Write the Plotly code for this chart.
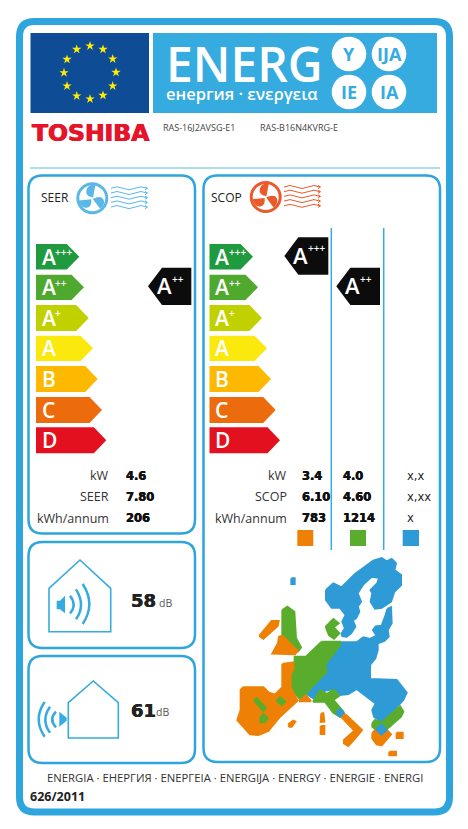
import plotly.graph_objects as go

BLUE = "#35abe0"
FRAME = "#2ea5dc"
CLASSES = ["A", "A", "A", "A", "B", "C", "D"]
CLASS_SUPS = ["+++", "++", "+", "", "", "", ""]
CLASS_COLORS = ["#1f9a3f", "#4fa92e", "#c1d100", "#fbe80c", "#fcb900", "#ec6c0d", "#e3101f"]
ROW_TOPS = [244, 274.7, 305, 335.7, 366, 397, 427.3]
ROW_BOTS = [269.5, 300, 331, 361, 392, 423, 453.3]
SEER_TIPS = [79.3, 84, 88.7, 93, 97.7, 102, 106.3]
SCOP_TIPS = [253, 258, 262, 267, 271, 275.7, 280]

SEER_LABELS = ["kW", "SEER", "kWh/annum"]
SEER_VALUES = ["4.6", "7.80", "206"]
SCOP_LABELS = ["kW", "SCOP", "kWh/annum"]
SCOP_WARM = ["3.4", "6.10", "783"]
SCOP_AVG = ["4.0", "4.60", "1214"]
SCOP_COLD = ["x,x", "x,xx", "x"]
ROW_Y = [475.7, 496.7, 518.3]
NOISE_IN = "58"
NOISE_OUT = "61"
MODELS = ["RAS-16J2AVSG-E1", "RAS-B16N4KVRG-E"]

STARS_X = [90, 103, 112.7, 116, 112.7, 103, 90, 76.7, 67, 64, 67, 76.7]
STARS_Y = [46, 49.3, 59, 72.3, 86, 95.3, 99, 96, 86, 72.7, 59.3, 49.3]

MAP_POLYS = [
 ("#2f9bd6", [(378,150),(400,130),(425,142),(465,102),(520,62),(545,54),(560,64),(575,57),(588,70),(583,90),(603,105),(603,135),(583,155),(573,185),(545,203),(525,206),(512,185),(517,160),(512,150),(532,130),(537,113),(515,110),(490,133),(473,160),(483,185),(473,200),(478,215),(468,235),(458,240),(466,260),(453,280),(440,290),(427,288),(425,280),(435,265),(427,245),(437,225),(420,203),(395,203),(378,180)]),
 ("#2f9bd6", [(562,207),(573,202),(575,250),(563,270),(566,290),(553,303),(533,310),(533,330),(526,355),(510,375),(510,417),(590,420),(620,458),(610,480),(565,528),(545,546),(522,530),(517,510),(527,490),(500,470),(470,447),(445,462),(420,465),(400,447),(375,452),(345,478),(320,462),(375,395),(375,375),(420,307),(470,307),(490,292),(510,297),(530,287),(519,270),(527,259),(545,257),(557,225)]),
 ("#5aad2c", [(365,305),(420,305),(420,315),(375,375),(380,395),(300,478),(274,445),(274,400),(284,385),(284,350),(318,350)]),
 ("#ee8105", [(247,372),(280,367),(280,390),(272,400),(272,445),(293,482),(240,530),(205,573),(175,585),(150,583),(112,540),(122,510),(122,450),(130,442),(190,442),(205,457),(225,464),(247,442)]),
 ("#ee8105", [(297,484),(318,466),(333,484)]),
 ("#5aad2c", [(339,485),(360,452),(380,462),(400,449),(418,467),(400,480),(430,515),(420,530),(400,518),(375,485)]),
 ("#ee8105", [(423,530),(433,522),(441,527),(486,570),(465,596),(445,618),(432,610),(432,600),(463,572)]),
 ("#2f9bd6", [(409,518),(420,507),(431,518),(420,530)]),
 ("#5aad2c", [(162,480),(170,474),(198,505),(190,513)]),
 ("#5aad2c", [(230,482),(240,472),(256,485),(245,495)]),
 ("#5aad2c", [(180,535),(190,522),(203,535),(195,546),(182,546)]),
 ("#5aad2c", [(517,550),(525,540),(545,548),(600,499),(610,515),(603,530),(560,568),(525,566),(517,560)]),
 ("#ee8105", [(517,580),(525,570),(545,587),(562,572),(573,583),(545,616),(530,613),(517,595)]),
 ("#2f9bd6", [(527,568),(545,554),(560,570),(545,583)]),
 ("#ee8105", [(590,578),(608,578),(608,594),(590,594)]),
 ("#ee8105", [(568,635),(588,635),(588,646),(568,646)]),
 ("#ee8105", [(364,520),(370,520),(373,545),(362,546)]),
 ("#ee8105", [(362,558),(373,558),(373,582),(362,582)]),
 ("#ee8105", [(265,553),(280,542),(286,545),(275,560),(268,560)]),
 ("#2f9bd6", [(274,115),(284,115),(284,132),(274,132)]),
 ("#ee8105", [(178,288),(215,243),(236,243),(233,258),(190,296)]),
 ("#5aad2c", [(247,210),(262,200),(283,215),(288,295),(303,322),(295,333),(247,285)]),
 ("#ee8105", [(247,287),(293,333),(285,343),(217,341),(234,310),(237,290)]),
 ("#5aad2c", [(377,260),(400,237),(416,250),(401,262),(418,280),(402,296),(387,285)]),
]

fig = go.Figure()
shapes = []
notes = []


def poly(pts, color, lw=0.0):
    xs = [p[0] for p in pts] + [pts[0][0]]
    ys = [p[1] for p in pts] + [pts[0][1]]
    fig.add_trace(go.Scatter(x=xs, y=ys, mode="lines", fill="toself", fillcolor=color,
                             line=dict(color=color, width=lw), hoverinfo="skip", showlegend=False))


def text(x, y, s, size, color="#333333", anchor="left", font="Open Sans", weight=400, fat=0):
    f = dict(size=size, color=color, family=font, weight=weight)
    if fat:
        f["shadow"] = f"{fat}px 0 0 {color}, -{fat}px 0 0 {color}"
    notes.append(dict(x=x, y=y, text=s, showarrow=False, xanchor=anchor, yanchor="middle", borderpad=0,
                      borderwidth=0, font=f))


def rrect(x0, y0, x1, y1, r, color, w, fill=None):
    p = (f"M{x0+r},{y0} L{x1-r},{y0} Q{x1},{y0} {x1},{y0+r} L{x1},{y1-r} Q{x1},{y1} {x1-r},{y1} "
         f"L{x0+r},{y1} Q{x0},{y1} {x0},{y1-r} L{x0},{y0+r} Q{x0},{y0} {x0+r},{y0} Z")
    shapes.append(dict(type="path", path=p, line=dict(color=color, width=w), fillcolor=fill, layer="below"))


def rect(x0, y0, x1, y1, color):
    shapes.append(dict(type="rect", x0=x0, y0=y0, x1=x1, y1=y1, fillcolor=color, line=dict(width=0), layer="below"))


def stroke(path, color, w):
    shapes.append(dict(type="path", path=path, line=dict(color=color, width=w), layer="above"))


# frame
rrect(19.5, 21.5, 449.5, 812, 15, FRAME, 7)
# header
rect(30.5, 33, 149, 113, "#0f4c96")
rect(153, 33, 437, 113, BLUE)
fig.add_trace(go.Scatter(x=STARS_X, y=STARS_Y, mode="markers", hoverinfo="skip", showlegend=False,
                         marker=dict(symbol="star", size=7, color="#ffed00", line=dict(width=0))))
text(166, 63, "ENERG", 48, "white", weight=600)
text(165.5, 93, "енергия · ενεργεια", 16.5, "white", weight=600)
for cx, cy, s in [(349, 54, "Y"), (389, 54, "IJA"), (349, 92, "IE"), (389, 92, "IA")]:
    shapes.append(dict(type="circle", x0=cx-17.3, x1=cx+17.3, y0=cy-17.3, y1=cy+17.3, fillcolor="white",
                       line=dict(width=0), layer="below"))
    text(cx, cy, s, 18, BLUE, "center", weight=700)
text(31.5, 132.5, "TOSHIBA", 23.5, "#e5142a", font="DejaVu Sans", weight=700, fat=0.5)
text(163, 127, MODELS[0], 9, "#444444")
text(260, 127, MODELS[1], 9, "#444444")
shapes.append(dict(type="line", x0=30, x1=440, y0=168, y1=168, line=dict(color="#5bc0d8", width=1)))

# panels
rrect(28.5, 175.5, 195, 533.5, 14, FRAME, 2.5)
rrect(203.5, 175.5, 440, 762, 14, FRAME, 2.5)
rrect(28.5, 542, 195, 648, 14, FRAME, 2.5)
rrect(28.5, 656, 195, 763, 14, FRAME, 2.5)


def arrows(left, tips):
    for i, c in enumerate(CLASSES):
        t, b, tip = ROW_TOPS[i], ROW_BOTS[i], tips[i]
        poly([(left, t), (tip-12.5, t), (tip, (t+b)/2), (tip-12.5, b), (left, b)], CLASS_COLORS[i])
        text(left+5.5, (t+b)/2, c, 21, "white", weight=600)
        if CLASS_SUPS[i]:
            text(left+19, t+8, CLASS_SUPS[i], 10, "white", weight=600)


arrows(36, SEER_TIPS)
arrows(209.5, SCOP_TIPS)


def black(tip, right, top, bot, sup):
    poly([(tip, (top+bot)/2), (tip+14, top), (right, top), (right, bot), (tip+14, bot)], "#0c0c0c")
    text(tip+9, (top+bot)/2-1, "A", 22, "white", weight=600)
    text(tip+24, top+11, sup, 10, "white", weight=600)


black(148, 191.3, 267.7, 305, "++")
black(284.3, 328.3, 237.3, 274.7, "+++")
black(336.3, 380, 267.7, 305, "++")

# rows
for i in range(3):
    y = ROW_Y[i]
    text(109, y, SEER_LABELS[i], 12.5, "#333333", "right")
    text(126, y, SEER_VALUES[i], 11.5, "#111111", font="DejaVu Sans", weight=700, fat=0.25)
    text(287, y, SCOP_LABELS[i], 12.5, "#333333", "right")
    text(301.5, y, SCOP_WARM[i], 11.5, "#111111", font="DejaVu Sans", weight=700, fat=0.25)
    text(342.5, y, SCOP_AVG[i], 11.5, "#111111", font="DejaVu Sans", weight=700, fat=0.25)
    text(406.5, y, SCOP_COLD[i], 11.5, "#222222", font="DejaVu Sans")
rect(297.3, 530, 313.3, 546, "#ee8105")
rect(350, 530, 366, 546, "#5aad2c")
rect(402.7, 530, 419, 546, "#2f9bd6")
for x in [331.3, 383.7]:
    shapes.append(dict(type="line", x0=x, x1=x, y0=228, y1=550, line=dict(color=BLUE, width=1.5)))


def fan(cx, cy, color, wx):
    shapes.append(dict(type="circle", x0=cx-14.5, x1=cx+14.5, y0=cy-14.5, y1=cy+14.5,
                       line=dict(color=color, width=3), layer="above"))
    for a, b, c, d, e, f, g, h in [(0, -2, -8, -3, -6, -12, 2, -13), (2, 1, 11, -3, 13, 4, 8, 9), (-2, 2, -1, 10, -9, 11, -12, 3)]:
        stroke(f"M{cx+a},{cy+b} C{cx+c},{cy+d} {cx+e},{cy+f} {cx+g},{cy+h} Z", color, 2)
        shapes[-1]["fillcolor"] = color
    for k in range(5):
        y = cy - 10 + k*4.7
        stroke(f"M{wx},{y} Q{wx+6},{y-3} {wx+12},{y} T{wx+24},{y} T{wx+36},{y}", color, 1)
        stroke(f"M{wx+34},{y-1.6} L{wx+36.5},{y} L{wx+34},{y+1.6}", color, 1)


text(41, 197, "SEER", 12, "#222222")
fan(92.3, 198.3, "#5ab8e8", 111)
text(211, 197, "SCOP", 12, "#222222")
fan(265.7, 197, "#ea5a2a", 284)

# houses
poly_h = lambda pts: shapes.append(dict(
    type="path", path="M" + " L".join(f"{x},{y}" for x, y in pts) + " Z", line=dict(color=BLUE, width=1.6)))
poly_h([(49, 588.3), (80, 560), (110.7, 588.3), (110.7, 631.7), (49, 631.7)])
poly_h([(68.3, 702.7), (93.3, 681), (118.3, 702.7), (118.3, 738), (68.3, 738)])


def z5(x, y):
    return 10 + x/3, 530 + y/3


poly([z5(*p) for p in [(140, 212), (150, 212), (165, 197), (165, 250), (150, 238), (140, 238)]], BLUE)
for a, b, c in [((180, 197), (202, 225), (180, 250)), ((198, 178), (228, 225), (198, 268)), ((218, 162), (258, 222), (218, 282))]:
    A, B, C = z5(*a), z5(*b), z5(*c)
    stroke(f"M{A[0]},{A[1]} Q{B[0]},{B[1]} {C[0]},{C[1]}", BLUE, 2.5)
poly([z5(*p) for p in [(148, 545), (170, 563), (170, 572), (148, 590)]], BLUE)
for a, b, c in [((138, 545), (115, 568), (138, 592)), ((120, 530), (92, 570), (120, 608)), ((104, 516), (68, 568), (104, 620))]:
    A, B, C = z5(*a), z5(*b), z5(*c)
    stroke(f"M{A[0]},{A[1]} Q{B[0]},{B[1]} {C[0]},{C[1]}", BLUE, 2.5)

text(130.5, 600, NOISE_IN, 18, "#222222", font="DejaVu Sans", weight=700, fat=0.3)
text(158.5, 603, "dB", 10.5, "#555555")
text(130.5, 710, NOISE_OUT, 18, "#222222", font="DejaVu Sans", weight=700, fat=0.3)
text(156, 712, "dB", 10.5, "#555555")

# map
for col, pts in MAP_POLYS:
    poly([(200 + x/3, 540 + y/3) for x, y in pts], col, 2)

text(235, 777, "ENERGIA · ЕНЕРГИЯ · ΕΝΕΡΓΕΙΑ · ENERGIJA · ENERGY · ENERGIE · ENERGI", 11.3, "#333333", "center")
text(30, 796, "626/2011", 12.5, "#222222", weight=700)

fig.update_layout(
    width=468, height=829, margin=dict(l=0, r=0, t=0, b=0), paper_bgcolor="white", plot_bgcolor="white",
    xaxis=dict(range=[0, 468], visible=False, fixedrange=True),
    yaxis=dict(range=[829, 0], visible=False, fixedrange=True),
    shapes=shapes, annotations=notes, showlegend=False,
)
fig.write_html("out.html", config={"displayModeBar": False},
               post_script="document.body.style.margin='0';document.documentElement.style.overflow='hidden';")
